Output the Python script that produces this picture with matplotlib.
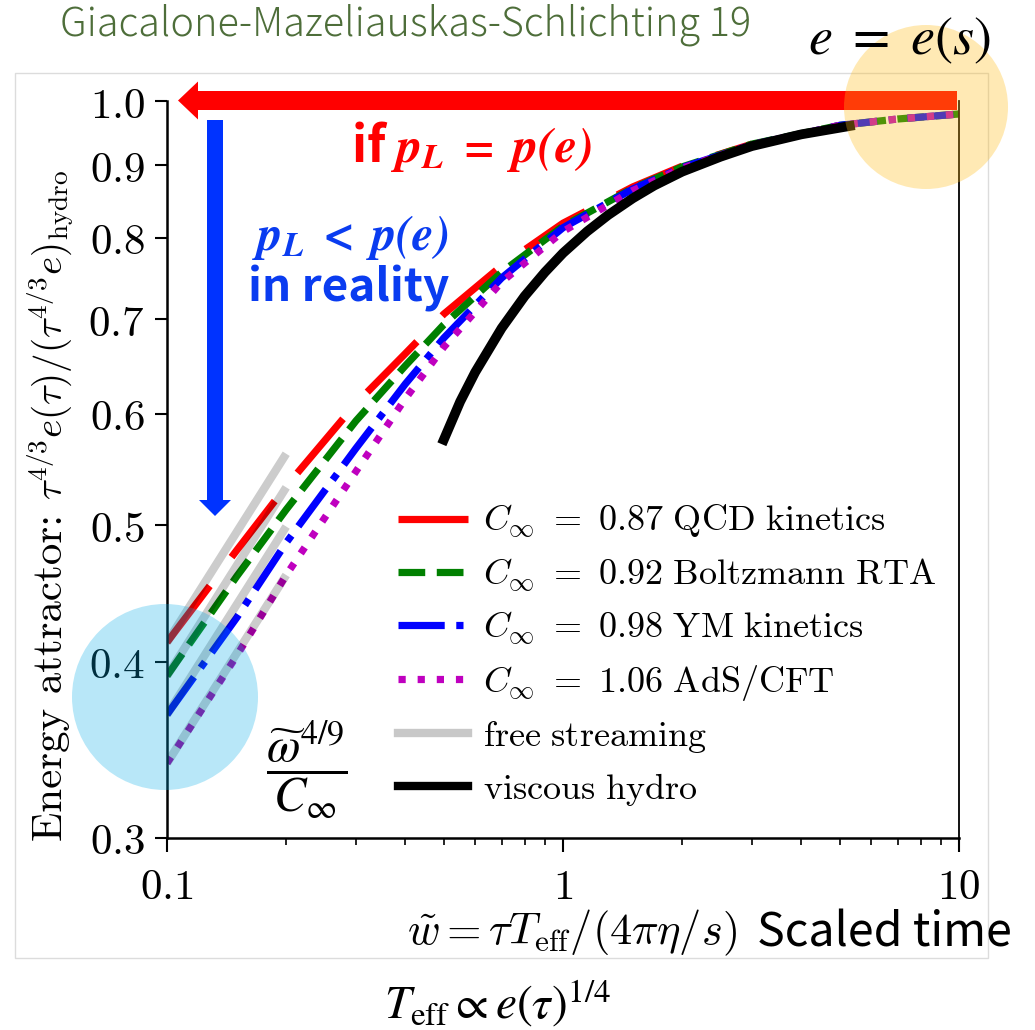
import matplotlib
matplotlib.use("Agg")
import matplotlib.pyplot as plt
from matplotlib.lines import Line2D
from matplotlib.patches import FancyArrow, Circle, Rectangle
from matplotlib.ticker import FixedLocator, FixedFormatter, NullFormatter, LogLocator

plt.rcParams['mathtext.fontset'] = 'cm'

# ---------------- data ----------------
x_attr = [0.1, 0.15, 0.2, 0.3, 0.4, 0.5, 0.7, 1.0, 1.5, 2.0, 3.0, 5.0, 7.0, 10.0]
y_qcd = [0.413, 0.480, 0.533, 0.610, 0.662, 0.706, 0.764, 0.819, 0.869, 0.899, 0.932]
y_rta = [0.391, 0.460, 0.513, 0.593, 0.649, 0.694, 0.756, 0.815, 0.867, 0.898, 0.932, 0.961, 0.971, 0.979]
y_ym = [0.367, 0.430, 0.486, 0.567, 0.630, 0.679, 0.749, 0.813, 0.866, 0.897, 0.931, 0.961, 0.971, 0.979]
y_ads = [0.339, 0.404, 0.461, 0.546, 0.615, 0.669, 0.744, 0.808, 0.864, 0.896, 0.931, 0.961, 0.971, 0.979]

x_free = [0.1, 0.2]
y_free = [[0.413, 0.562], [0.391, 0.532], [0.367, 0.499], [0.339, 0.461]]

x_hydro = [0.5, 0.55, 0.6, 0.7, 0.8, 0.9, 1.0, 1.15, 1.3, 1.5, 1.7, 2.0, 2.5, 3.0, 4.0, 5.3]
y_hydro = [0.575, 0.612, 0.642, 0.690, 0.727, 0.756, 0.780, 0.808, 0.830, 0.853, 0.871,
           0.891, 0.913, 0.929, 0.947, 0.960]

labels = [r'$C_\infty\ =\ 0.87\ \mathrm{QCD\ kinetics}$',
          r'$C_\infty\ =\ 0.92\ \mathrm{Boltzmann\ RTA}$',
          r'$C_\infty\ =\ 0.98\ \mathrm{YM\ kinetics}$',
          r'$C_\infty\ =\ 1.06\ \mathrm{AdS/CFT}$',
          r'$\mathrm{free\ streaming}$',
          r'$\mathrm{viscous\ hydro}$']

y_ticks = [0.3, 0.4, 0.5, 0.6, 0.7, 0.8, 0.9, 1.0]
y_ticklabels = ['0.3', '0.4', '0.5', '0.6', '0.7', '0.8', '0.9', '1.0']
x_ticks = [0.1, 1, 10]
x_ticklabels = ['0.1', '1', '10']

# ---------------- figure ----------------
W, H = 1035, 1030
fig = plt.figure(figsize=(W / 100, H / 100), dpi=100)

def fx(px):
    return px / W

def fy(py):
    return 1 - py / H

L, R, T, B = 167, 959, 101, 838
ax = fig.add_axes([fx(L), fy(B), (R - L) / W, (B - T) / H])
ax.set_xscale('log')
ax.set_yscale('log')
ax.set_xlim(0.1, 10)
ax.set_ylim(0.3, 1.0)

lw = 5.2
ax.plot(x_attr[:len(y_qcd)], y_qcd, color='red', lw=lw, dashes=(9.8, 5.0), zorder=2)
ax.plot(x_attr, y_rta, color='green', lw=lw, ls='--', zorder=2)
ax.plot(x_attr, y_ym, color='blue', lw=lw, ls='-.', zorder=2)
ax.plot(x_attr, y_ads, color='m', lw=lw, ls=':', zorder=2)
ax.plot(x_hydro, y_hydro, color='black', lw=7.0, zorder=3)
for yf in y_free:
    ax.plot(x_free, yf, color='black', alpha=0.2, lw=6.0, zorder=4,
            solid_capstyle='butt')

# ticks
ax.yaxis.set_major_locator(FixedLocator(y_ticks))
ax.yaxis.set_major_formatter(FixedFormatter(['$' + t + '$' for t in y_ticklabels]))
ax.yaxis.set_minor_locator(FixedLocator([]))
ax.xaxis.set_major_locator(FixedLocator(x_ticks))
ax.xaxis.set_major_formatter(FixedFormatter(['$' + t + '$' for t in x_ticklabels]))
ax.xaxis.set_minor_locator(LogLocator(base=10, subs=range(2, 10)))
ax.xaxis.set_minor_formatter(NullFormatter())
ax.tick_params(axis='both', which='major', direction='out', length=9, width=1.5,
               labelsize=31, pad=7)
ax.tick_params(axis='x', which='major', length=10, pad=10)
ax.tick_params(axis='x', which='minor', direction='out', length=5, width=1.2)
ax.tick_params(top=False, right=False)
for s in ['left', 'bottom']:
    ax.spines[s].set_linewidth(1.8)
ax.spines['right'].set_linewidth(1.3)
ax.spines['top'].set_visible(False)

# legend
h = [Line2D([], [], color='red', lw=lw, solid_capstyle='butt'),
     Line2D([], [], color='green', lw=lw, ls='--'),
     Line2D([], [], color='blue', lw=lw, ls='-.'),
     Line2D([], [], color='m', lw=lw, ls=':'),
     Line2D([], [], color='#c8c8c8', lw=6.0),
     Line2D([], [], color='black', lw=6.0)]
leg = ax.legend(h, labels, loc='upper left',
                bbox_to_anchor=((398 - L) / (R - L), (B - 503) / (B - T)),
                frameon=False, fontsize=26, handlelength=1.94, handletextpad=0.42,
                labelspacing=0.44, borderaxespad=0, borderpad=0)

# ---------------- overlay (annotations) ----------------
ov = fig.add_axes([0, 0, 1, 1], zorder=10)
ov.set_xlim(0, W)
ov.set_ylim(H, 0)
ov.axis('off')
ov.patch.set_alpha(0)

ov.add_patch(Rectangle((15, 73), 973, 885, fill=False, ec='#dcdcdc', lw=1.0, zorder=0))

ov.add_patch(FancyArrow(957, 100.5, -(957 - 178), 0, width=19, head_width=38,
                        head_length=20, length_includes_head=True, color='red', lw=0,
                        zorder=2))
ov.add_patch(FancyArrow(215, 120, 0, 516 - 120, width=16, head_width=32,
                        head_length=16, length_includes_head=True, color='#0033ff', lw=0,
                        zorder=2))

ov.add_patch(Circle((926, 107), 82, color='#ffbc16', alpha=0.32, lw=0, zorder=3))
ov.add_patch(Circle((165, 697), 93, color='#00aae6', alpha=0.28, lw=0, zorder=3))

sans = ['Noto Sans CJK JP', 'DejaVu Sans']
ov.text(406, 25, 'Giacalone-Mazeliauskas-Schlichting 19', ha='center', va='center',
        fontsize=28.5, color='#4e6e3a', family=sans, fontweight='light', zorder=5)
ov.text(900, 40, r'$e\ =\ e(s)$', ha='center', va='center', fontsize=39,
        math_fontfamily='stix', zorder=5)
ov.text(472, 146, r'if $\mathbfit{p_L\ =\ p(e)}$', ha='center', va='center', fontsize=36,
        color='red', family=sans, fontweight='bold',
        math_fontfamily='stix', zorder=5)
ov.text(350, 238, r'$\mathbfit{p_L\ <\ p(e)}$', ha='center', va='center', fontsize=35,
        color='#0a3cf0', math_fontfamily='stix', zorder=5)
ov.text(349, 289, 'in reality', ha='center', va='center', fontsize=33,
        color='#0a3cf0', family=sans, fontweight='bold', zorder=5)
ov.text(307, 770, r'$\dfrac{\widetilde{\omega}^{4/9}}{C_\infty}$', ha='center', va='center',
        fontsize=35, math_fontfamily='stix', zorder=5)
ov.text(62, 841, 'Energy attractor:', rotation=90, rotation_mode='anchor',
        ha='left', va='baseline', fontsize=31, family='cmr10', zorder=5)
ov.text(62, 500, r'$\tau^{4/3}e(\tau)/(\tau^{4/3}e)_{\mathrm{hydro}}$', rotation=90,
        rotation_mode='anchor', ha='left', va='baseline', fontsize=28, zorder=5)
ov.text(737, 933, r'$\tilde{w} = \tau T_{\mathrm{eff}}/(4\pi\eta/s)$', ha='right', va='center',
        fontsize=32, zorder=5)
ov.text(757, 933, 'Scaled time', ha='left', va='center', fontsize=33.5,
        family=sans, zorder=5)
ov.text(498, 1003, r'$T_{\mathrm{eff}} \propto e(\tau)^{1/4}$', ha='center', va='center',
        fontsize=34, math_fontfamily='stix', zorder=5)

fig.savefig('out.png', dpi=100)
